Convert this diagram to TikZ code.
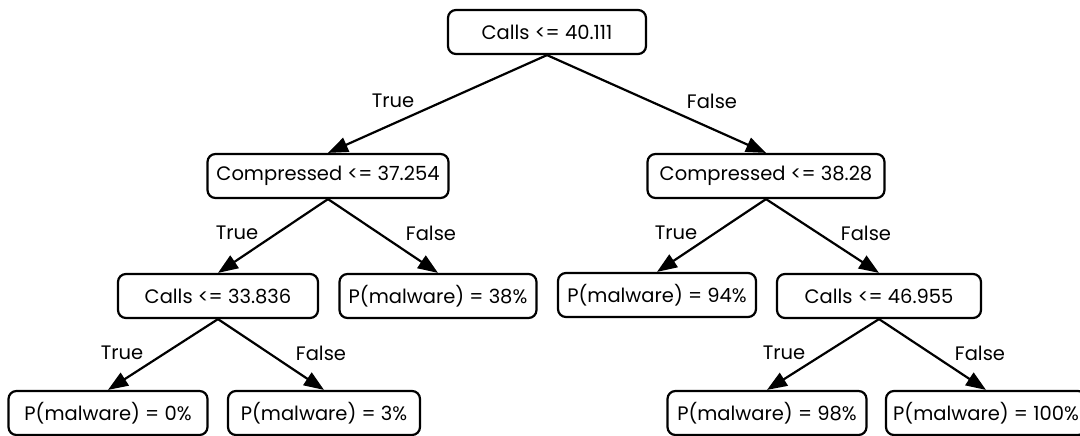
\documentclass[tikz,border=0pt]{standalone}
\usepackage{fontspec}
\setmainfont{Poppins}
\usetikzlibrary{arrows.meta}
\begin{document}
\begin{tikzpicture}[x=1pt,y=-1pt,
  tnode/.style={draw, line width=2.2pt, rounded corners=8pt, minimum height=44pt, inner xsep=6pt, font=\fontsize{19.5}{24}\selectfont},
  edge/.style={line width=2.2pt, -{Triangle[length=20pt,width=15pt]}},
  elabel/.style={font=\fontsize{19.5}{24}\selectfont}]
\useasboundingbox (0,0) rectangle (1080,436);
\node[tnode, minimum width=198pt] (root) at (547,32) {Calls <= 40.111};
\node[tnode, minimum width=241pt] (c1) at (328,176) {Compressed <= 37.254};
\node[tnode, minimum width=237pt] (c2) at (766,176) {Compressed <= 38.28};
\node[tnode, minimum width=200pt] (k1) at (218,296) {Calls <= 33.836};
\node[tnode, minimum width=197pt] (p38) at (438,296) {P(malware) = 38\%};
\node[tnode, minimum width=198pt] (p94) at (657,295) {P(malware) = 94\%};
\node[tnode, minimum width=204pt] (k2) at (879,296) {Calls <= 46.955};
\node[tnode, minimum width=199pt] (p0) at (108,413) {P(malware) = 0\%};
\node[tnode, minimum width=192pt] (p3) at (324,413) {P(malware) = 3\%};
\node[tnode, minimum width=199pt] (p98) at (767,413) {P(malware) = 98\%};
\node[tnode, minimum width=200pt] (p100) at (986,413) {P(malware) = 100\%};
\draw[edge] (root.south) -- (c1.north);
\draw[edge] (root.south) -- (c2.north);
\draw[edge] (c1.south) -- (k1.north);
\draw[edge] (c1.south) -- (p38.north);
\draw[edge] (c2.south) -- (p94.north);
\draw[edge] (c2.south) -- (k2.north);
\draw[edge] (k1.south) -- (p0.north);
\draw[edge] (k1.south) -- (p3.north);
\draw[edge] (k2.south) -- (p98.north);
\draw[edge] (k2.south) -- (p100.north);
\node[elabel] (l1) at (393,101) {True};
\node[elabel] (l2) at (712,101) {False};
\node[elabel] (l3) at (237,233) {True};
\node[elabel] (l4) at (431,233) {False};
\node[elabel] (l5) at (676,233) {True};
\node[elabel] (l6) at (866,233) {False};
\node[elabel] (l7) at (122,353) {True};
\node[elabel] (l8) at (321,353) {False};
\node[elabel] (l9) at (784,353) {True};
\node[elabel] (l10) at (980,353) {False};
\end{tikzpicture}
\end{document}
